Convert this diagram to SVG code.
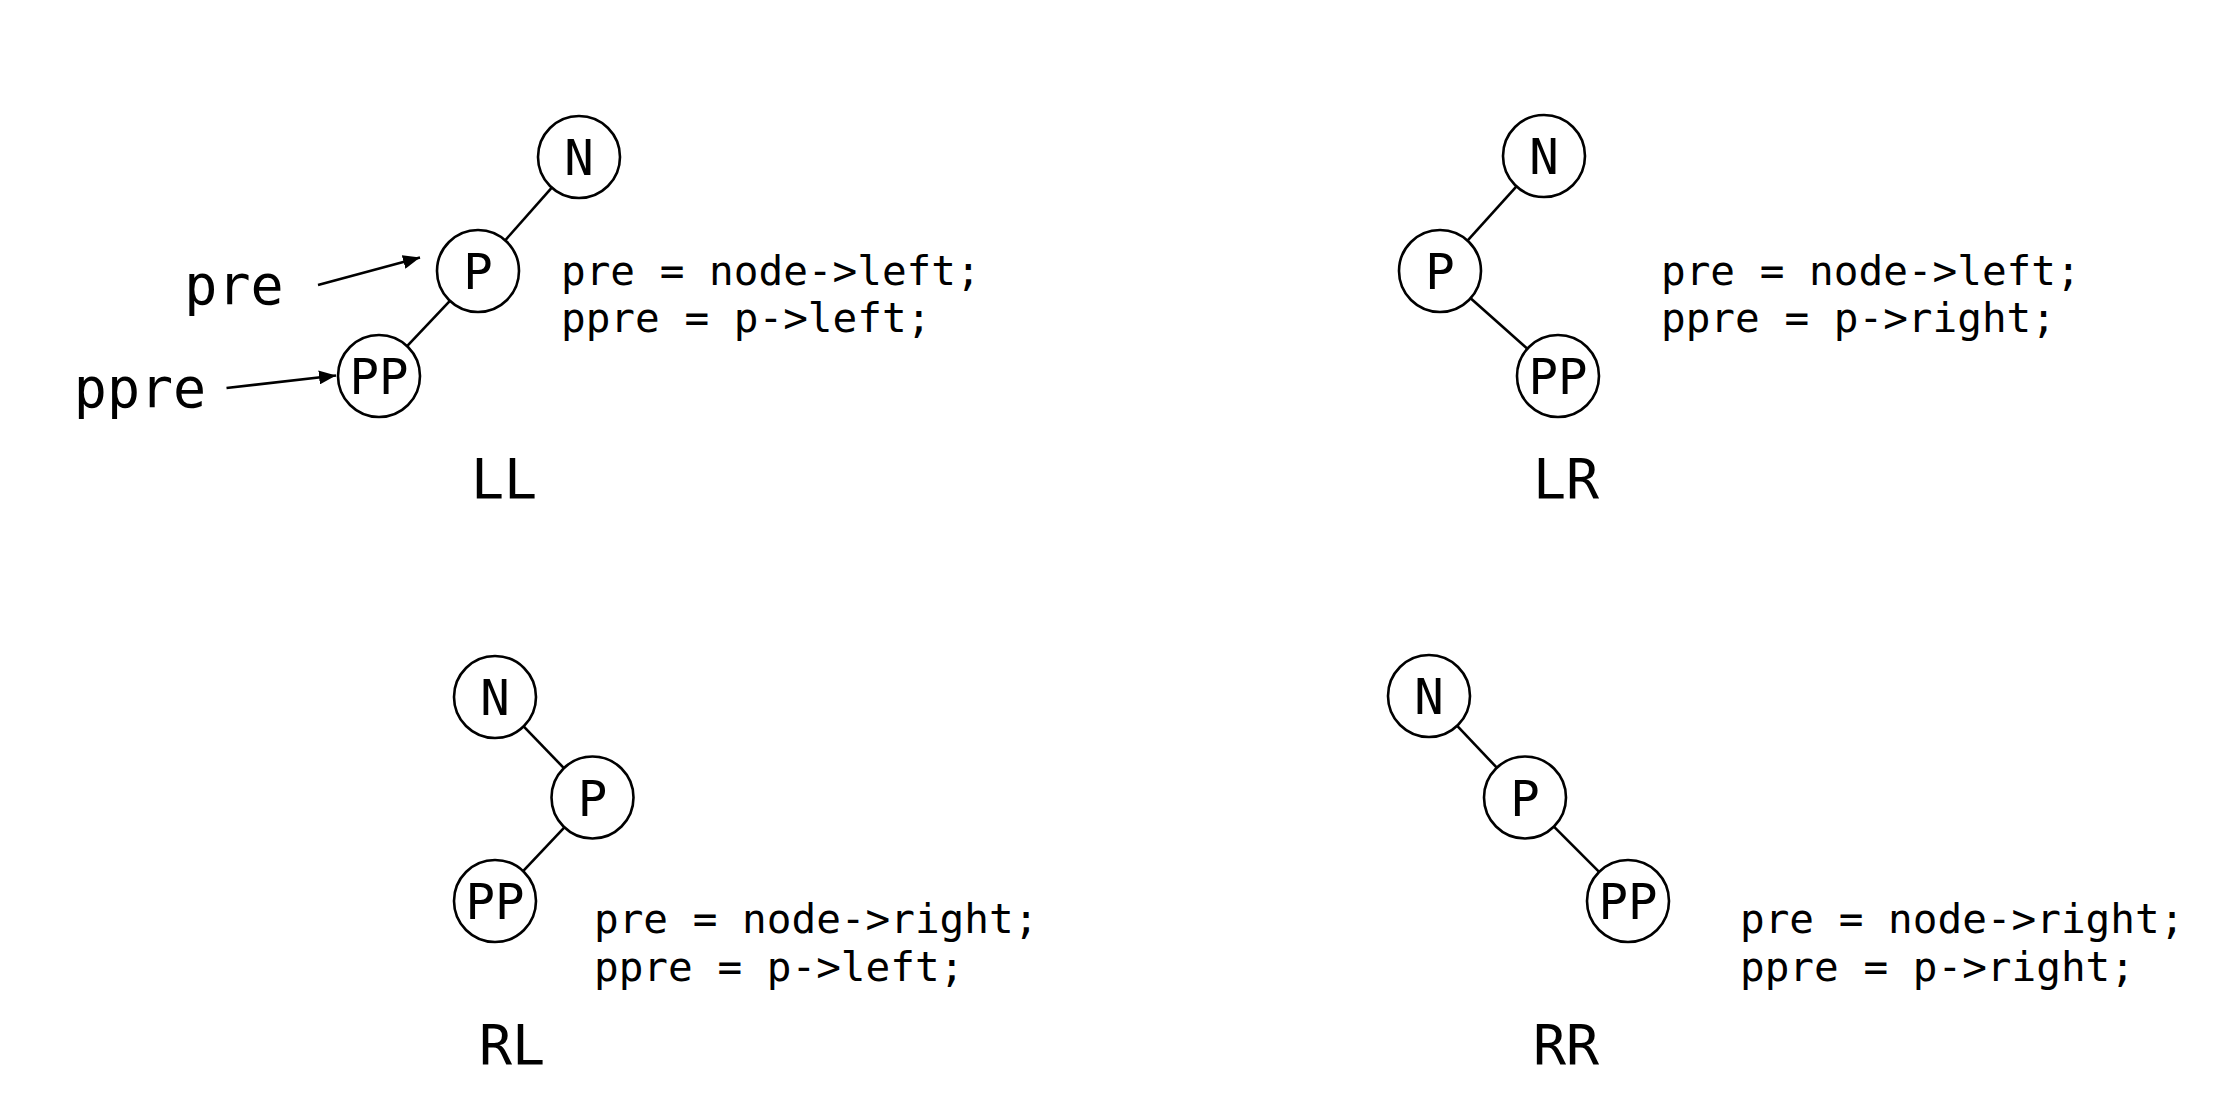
<svg xmlns="http://www.w3.org/2000/svg" width="2233" height="1101" viewBox="0 0 2233 1101">
<style>
.node circle{fill:#fff;stroke:#000;stroke-width:2.6}
.node text{font-family:"DejaVu Sans Mono","Liberation Mono",monospace;font-size:49px;text-anchor:middle;fill:#000}
.edge{stroke:#000;stroke-width:2.6;fill:none}
.code{font-family:"DejaVu Sans Mono","Liberation Mono",monospace;font-size:41px;fill:#000}
.label{font-family:"DejaVu Sans Mono","Liberation Mono",monospace;font-size:55px;fill:#000;text-anchor:middle}
</style>
<defs>
<marker id="ah" markerUnits="userSpaceOnUse" markerWidth="18" markerHeight="14" refX="17" refY="7" orient="auto">
<path d="M0,0 L17,7 L0,14 Z" fill="#000"/>
</marker>
</defs>
<rect width="2233" height="1101" fill="#fff"/>
<g id="connectors">
<line class="edge" x1="551.8" y1="187.7" x2="505.2" y2="240.3"/>
<line class="edge" x1="449.9" y1="300.8" x2="407.1" y2="346.2"/>
<line class="edge" x1="318" y1="285" x2="420" y2="257.5" marker-end="url(#ah)"/>
<line class="edge" x1="226.5" y1="388" x2="336" y2="375.5" marker-end="url(#ah)"/>
<line class="edge" x1="1516.5" y1="186.4" x2="1467.5" y2="240.6"/>
<line class="edge" x1="1470.6" y1="298.3" x2="1527.4" y2="348.7"/>
<line class="edge" x1="523.6" y1="726.4" x2="563.9" y2="768.1"/>
<line class="edge" x1="564.4" y1="827.3" x2="523.1" y2="871.2"/>
<line class="edge" x1="1457.2" y1="725.8" x2="1496.8" y2="767.7"/>
<line class="edge" x1="1553.9" y1="826.6" x2="1599.1" y2="871.9"/>
</g>
<g id="LL">
<g id="LL-N" class="node"><circle cx="579" cy="157" r="41"/><text x="579" y="175">N</text></g>
<g id="LL-P" class="node"><circle cx="478" cy="271" r="41"/><text x="478" y="289">P</text></g>
<g id="LL-PP" class="node"><circle cx="379" cy="376" r="41"/><text x="379" y="394">PP</text></g>
<text class="label" x="234" y="304">pre</text>
<text class="label" x="140" y="407">ppre</text>
<text class="code" x="561" y="285">pre = node-&gt;left;</text>
<text class="code" x="561" y="332">ppre = p-&gt;left;</text>
<text class="label" x="504" y="498">LL</text>
</g>
<g id="LR">
<g id="LR-N" class="node"><circle cx="1544" cy="156" r="41"/><text x="1544" y="174">N</text></g>
<g id="LR-P" class="node"><circle cx="1440" cy="271" r="41"/><text x="1440" y="289">P</text></g>
<g id="LR-PP" class="node"><circle cx="1558" cy="376" r="41"/><text x="1558" y="394">PP</text></g>
<text class="code" x="1661" y="285">pre = node-&gt;left;</text>
<text class="code" x="1661" y="332">ppre = p-&gt;right;</text>
<text class="label" x="1566" y="498">LR</text>
</g>
<g id="RL">
<g id="RL-N" class="node"><circle cx="495" cy="697" r="41"/><text x="495" y="715">N</text></g>
<g id="RL-P" class="node"><circle cx="592.5" cy="797.5" r="41"/><text x="592.5" y="815.5">P</text></g>
<g id="RL-PP" class="node"><circle cx="495" cy="901" r="41"/><text x="495" y="919">PP</text></g>
<text class="code" x="594" y="933">pre = node-&gt;right;</text>
<text class="code" x="594" y="981">ppre = p-&gt;left;</text>
<text class="label" x="512" y="1064">RL</text>
</g>
<g id="RR">
<g id="RR-N" class="node"><circle cx="1429" cy="696" r="41"/><text x="1429" y="714">N</text></g>
<g id="RR-P" class="node"><circle cx="1525" cy="797.5" r="41"/><text x="1525" y="815.5">P</text></g>
<g id="RR-PP" class="node"><circle cx="1628" cy="901" r="41"/><text x="1628" y="919">PP</text></g>
<text class="code" x="1740" y="933">pre = node-&gt;right;</text>
<text class="code" x="1740" y="981">ppre = p-&gt;right;</text>
<text class="label" x="1566" y="1064">RR</text>
</g>
</svg>
